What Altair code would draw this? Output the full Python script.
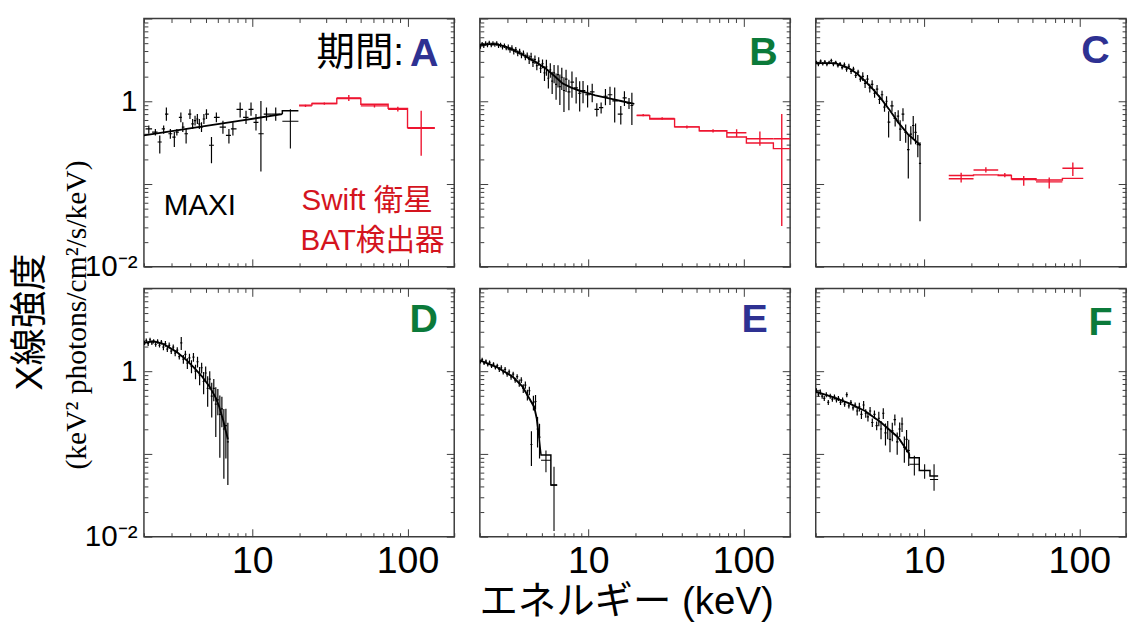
import math
import altair as alt
import pandas as pd

# ---------------- axis ticks / labels ----------------
X_TICKS = [2, 3, 4, 5, 6, 7, 8, 9, 10, 20, 30, 40, 50, 60, 70, 80, 90, 100, 200]
Y_TICKS = [0.01, 0.02, 0.03, 0.04, 0.05, 0.06, 0.07, 0.08, 0.09,
           0.1, 0.2, 0.3, 0.4, 0.5, 0.6, 0.7, 0.8, 0.9,
           1, 2, 3, 4, 5, 6, 7, 8, 9, 10]
X_LABEL_TICKS = [10, 100]
X_LABEL_TEXT = ["10", "100"]
Y_LABEL_TICKS = [0.01, 1]
Y_LABEL_TEXT = ["10⁻²", "1"]
X_DOMAIN = [2, 200]
Y_DOMAIN = [0.01, 10]

# ---------------- Panel A ----------------
A_maxi_E = [2.15, 2.37, 2.53, 2.68, 2.79, 2.96, 3.14, 3.26, 3.46, 3.56, 3.74, 3.96, 4.12, 4.27, 4.42, 4.55,
            4.70, 4.87, 5.06, 5.45, 5.86, 6.46, 7.06, 7.49, 8.34, 9.10, 9.80, 10.55, 11.35, 12.33, 14.14]
A_maxi_y = [0.464, 0.424, 0.322, 0.464, 0.70, 0.405, 0.369, 0.424, 0.639, 0.486, 0.405, 0.70, 0.532, 0.583,
            0.611, 0.532, 0.486, 0.611, 0.70, 0.294, 0.639, 0.486, 0.387, 0.464, 0.80, 0.639, 0.80, 0.557,
            0.405, 0.70, 0.70]
A_maxi_lo = [0.405, 0.387, 0.234, 0.405, 0.583, 0.353, 0.281, 0.387, 0.557, 0.424, 0.308, 0.611, 0.464, 0.508,
             0.532, 0.464, 0.424, 0.532, 0.611, 0.178, 0.557, 0.405, 0.308, 0.387, 0.639, 0.532, 0.669, 0.443,
             0.1415, 0.583, 0.583]
A_maxi_hi = [0.508, 0.464, 0.387, 0.508, 0.841, 0.464, 0.424, 0.464, 0.733, 0.557, 0.464, 0.80, 0.611, 0.669,
             0.70, 0.611, 0.557, 0.70, 0.80, 0.369, 0.733, 0.583, 0.464, 0.557, 0.964, 0.767, 0.964, 0.70,
             1.009, 0.841, 0.841]
A_model_E = [2.0, 8.0, 15.6]
A_model_y = [0.387, 0.576, 0.70]
A_bin_edges = [15.6, 19.8]
A_bin_y = [0.573]
A_bin_lo = [0.268]
A_bin_hi = [0.803]
A_bin_model = [0.767]
A_bat_edges = [20, 24.2, 35, 50, 75, 100, 150]
A_bat_y = [0.88, 0.94, 1.10, 0.88, 0.80, 0.47]
A_bat_lo = [0.85, 0.91, 1.01, 0.84, 0.75, 0.22]
A_bat_hi = [0.91, 0.97, 1.19, 0.92, 0.86, 0.767]
A_bat_model = [0.90, 0.94, 1.08, 0.92, 0.82, 0.48]

# ---------------- Panel B ----------------
B_maxi_E = [2.02, 2.07, 2.12, 2.18, 2.24, 2.30, 2.37, 2.43, 2.50, 2.57, 2.64, 2.72, 2.80, 2.88, 2.96,
            3.05, 3.13, 3.22, 3.31, 3.41, 3.51, 3.61, 3.71, 3.82, 3.93, 4.04,
            4.16, 4.28, 4.40, 4.53, 4.66, 4.79, 4.93, 5.07,
            5.22, 5.37, 5.53, 5.69, 5.85, 6.02,
            6.20, 6.38, 6.56, 6.75, 6.97, 7.19, 7.50, 7.85,
            8.35, 8.80, 9.25, 9.9, 10.6, 11.35, 12.1, 12.9, 13.8, 14.8, 16.2, 17.1, 18.3, 19.1]
B_maxi_y = [4.6, 4.9, 4.7, 5.0, 4.8, 5.1, 4.8, 5.0, 4.85, 5.0, 4.7, 4.8, 4.5, 4.7, 4.4,
            4.5, 4.2, 4.4, 4.0, 4.2, 3.8, 4.0, 3.6, 3.8, 3.4, 3.6,
            3.2, 3.45, 2.95, 3.2, 2.7, 3.05, 2.5, 2.85,
            2.2, 2.6, 1.9, 2.4, 1.75, 2.2,
            1.6, 2.1, 1.5, 1.95, 1.35, 1.85, 1.3, 1.7,
            1.45, 1.25, 1.35, 1.2, 1.3, 0.80, 0.84, 1.15, 1.2, 1.01, 0.70, 1.10, 0.95, 0.89]
B_maxi_err = [0.06] * 15 + [0.08] * 11 + [0.12] * 8 + \
             [0.2, 0.22, 0.25, 0.2, 0.3, 0.25] + \
             [0.35, 0.3, 0.4, 0.3, 0.45, 0.3, 0.4, 0.35] + \
             [0.35, 0.4, 0.3, 0.3, 0.25, 0.18, 0.15, 0.22, 0.25, 0.45, 0.25, 0.2, 0.15, 0.42]
B_model_E = [2.0, 2.3, 2.55, 2.9, 3.26, 3.7, 4.16, 4.7, 5.3, 6.0, 6.8, 7.7, 8.7, 9.8, 11.1, 12.5, 14.1, 16.5, 19.8]
B_model_y = [4.77, 4.9, 4.9, 4.6, 4.2, 3.75, 3.3, 2.9, 2.5, 2.05, 1.65, 1.47, 1.35, 1.26, 1.18, 1.12, 1.07, 1.0, 0.93]
B_bat_edges = [20.5, 24.9, 36.0, 51.9, 78.2, 104.5, 156, 200]
B_bat_y = [0.68, 0.62, 0.49, 0.44, 0.416, 0.353, 0.353]
B_bat_lo = [0.66, 0.60, 0.47, 0.42, 0.37, 0.29, 0.031]
B_bat_hi = [0.70, 0.64, 0.51, 0.46, 0.46, 0.43, 0.70]
B_bat_model = [0.67, 0.61, 0.49, 0.44, 0.37, 0.313, 0.268]

# ---------------- Panel C ----------------
C_maxi_E = [2.02, 2.08, 2.15, 2.22, 2.29, 2.36, 2.44, 2.52, 2.60, 2.69, 2.78, 2.87, 2.96,
            3.06, 3.16, 3.27, 3.38, 3.50, 3.62, 3.75, 3.88,
            4.02, 4.16, 4.31, 4.46, 4.62, 4.79, 4.97, 5.15, 5.35, 5.55,
            5.72, 5.9, 6.2, 6.5, 6.8, 7.0, 7.3, 7.6, 7.9, 8.2, 8.5, 8.8, 9.1, 9.4]
C_maxi_y = [2.95, 2.8, 3.05, 2.85, 3.0, 2.8, 2.95, 3.1, 2.8, 2.95, 2.7, 2.85, 2.55,
            2.75, 2.45, 2.65, 2.3, 2.45, 2.05, 2.25, 1.85,
            2.0, 1.65, 1.85, 1.45, 1.6, 1.25, 1.4, 1.05, 1.2, 0.85,
            1.0, 0.56, 0.88, 0.62, 0.66, 0.46, 0.70, 0.42, 0.26, 0.40, 0.51, 0.42, 0.30, 0.178]
C_maxi_err = [0.05] * 13 + [0.07] * 8 + [0.12] * 10 + \
             [0.15, 0.35, 0.15, 0.2, 0.18, 0.28, 0.18, 0.25, 0.55, 0.25, 0.3, 0.28, 0.3, 0.8]
C_model_E = [2.0, 2.68, 3.26, 3.7, 4.16, 4.7, 5.3, 6.0, 6.78, 7.85, 9.46]
C_model_y = [2.89, 2.89, 2.52, 2.15, 1.75, 1.38, 1.06, 0.78, 0.56, 0.40, 0.294]
C_bat_edges = [14.4, 20.8, 30.0, 36.5, 52.6, 77.8, 106]
C_bat_y = [0.116, 0.148, 0.128, 0.113, 0.106, 0.155]
C_bat_lo = [0.104, 0.138, 0.121, 0.095, 0.088, 0.125]
C_bat_hi = [0.137, 0.160, 0.136, 0.125, 0.120, 0.182]
C_bat_model = [0.127, 0.129, 0.127, 0.116, 0.112, 0.117]

# ---------------- Panel D ----------------
D_maxi_E = [2.02, 2.07, 2.13, 2.19, 2.25, 2.31, 2.38, 2.45, 2.52, 2.59,
            2.67, 2.75, 2.83, 2.91, 3.00, 3.09, 3.18, 3.28, 3.38, 3.48,
            3.59, 3.70, 3.81, 3.93, 4.05, 4.17, 4.30, 4.43, 4.57, 4.71,
            4.85, 5.00, 5.15, 5.31, 5.47, 5.64, 5.81, 5.99, 6.17, 6.36,
            6.55, 6.75, 6.95]
D_maxi_y = [2.2, 2.35, 2.15, 2.4, 2.2, 2.3, 2.1, 2.3, 2.05, 2.25,
            1.95, 2.15, 1.85, 2.05, 1.75, 1.95, 1.65, 1.8, 1.5, 2.2,
            1.4, 1.6, 1.25, 1.45, 1.15, 1.48, 1.0, 1.3, 0.9, 1.1,
            0.75, 0.95, 0.62, 0.8, 0.5, 0.62, 0.4, 0.45, 0.3, 0.35,
            0.2, 0.22, 0.14]
D_maxi_err = [0.06] * 10 + [0.08] * 9 + [0.18] + \
             [0.12, 0.1, 0.15, 0.12, 0.18, 0.12, 0.2, 0.15, 0.25, 0.15] + \
             [0.3, 0.2, 0.4, 0.25, 0.45, 0.3, 0.6, 0.35, 0.7, 0.4] + \
             [0.75, 0.6, 0.7]
D_model_E = [2.0, 2.3, 2.68, 3.26, 3.7, 4.16, 4.7, 5.3, 5.8, 6.1, 6.5, 6.95]
D_model_y = [2.2, 2.3, 2.13, 1.70, 1.40, 1.13, 0.88, 0.65, 0.48, 0.376, 0.25, 0.15]

# ---------------- Panel E ----------------
E_maxi_E = [2.02, 2.07, 2.13, 2.19, 2.25, 2.31, 2.38, 2.45, 2.52, 2.59,
            2.67, 2.75, 2.83, 2.91, 3.00, 3.09, 3.18, 3.28, 3.38, 3.48,
            3.59, 3.70, 3.81, 3.93, 4.05, 4.17, 4.30, 4.43, 4.57, 4.71, 4.85]
E_maxi_y = [1.3, 1.38, 1.25, 1.32, 1.2, 1.28, 1.15, 1.22, 1.1, 1.17,
            1.05, 1.1, 0.98, 1.05, 0.92, 0.98, 0.85, 0.92, 0.78, 0.86,
            0.72, 0.78, 0.62, 0.68, 0.52, 0.58, 0.13, 0.42, 0.43, 0.2, 0.16]
E_maxi_err = [0.05] * 10 + [0.07] * 10 + \
             [0.1, 0.08, 0.12, 0.1, 0.15, 0.12, 0.45, 0.2, 0.2, 0.4, 0.45]
E_model_E = [2.0, 2.55, 3.26, 3.77, 4.16, 4.48, 4.65, 4.8]
E_model_y = [1.35, 1.13, 0.855, 0.65, 0.47, 0.37, 0.27, 0.165]
E_bin_edges = [4.96, 5.74, 6.3]
E_bin_y = [0.084, 0.042]
E_bin_lo = [0.06, 0.0117]
E_bin_hi = [0.11, 0.07]
E_bin_model = [0.097, 0.042]

# ---------------- Panel F ----------------
F_maxi_E = [2.02, 2.08, 2.14, 2.20, 2.27, 2.34, 2.41, 2.48, 2.56, 2.64,
            2.72, 2.80, 2.89, 2.98, 3.07, 3.17, 3.27, 3.37, 3.48, 3.59,
            3.70, 3.82, 3.94, 4.07, 4.20, 4.34, 4.48, 4.63, 4.78, 4.94,
            5.10, 5.27, 5.45, 5.63, 5.82, 6.02, 6.23, 6.47, 6.70, 6.95,
            7.2, 7.45, 7.7, 7.95]
F_maxi_y = [0.58, 0.53, 0.56, 0.5, 0.47, 0.52, 0.42, 0.5, 0.46, 0.49,
            0.45, 0.47, 0.42, 0.45, 0.4, 0.52, 0.38, 0.42, 0.36, 0.39,
            0.33, 0.37, 0.3, 0.39, 0.31, 0.28, 0.33, 0.24, 0.3, 0.22,
            0.27, 0.2, 0.31, 0.18, 0.2, 0.15, 0.19, 0.26, 0.14, 0.2,
            0.23, 0.12, 0.15, 0.11]
F_maxi_err = [0.07] * 20 + [0.12] * 10 + \
             [0.2, 0.25, 0.15, 0.3, 0.25, 0.3, 0.25, 0.15, 0.3, 0.2] + \
             [0.2, 0.35, 0.3, 0.35]
F_model_E = [2.0, 2.55, 3.26, 4.16, 5.3, 6.8, 8.03]
F_model_y = [0.567, 0.49, 0.41, 0.33, 0.238, 0.158, 0.10]
F_bin_edges = [8.03, 9.3, 10.9, 12.3]
F_bin_y = [0.075, 0.063, 0.049]
F_bin_lo = [0.055, 0.05, 0.036]
F_bin_hi = [0.095, 0.075, 0.075]
F_bin_model = [0.09, 0.063, 0.054]

# ---------------- text ----------------
PANEL_LETTERS = ["A", "B", "C", "D", "E", "F"]
PERIOD_TEXT = "期間:"
MAXI_TEXT = "MAXI"
SWIFT_TEXT = ["Swift 衛星", "BAT検出器"]
Y_TITLE = "X線強度"
Y_UNIT = "(keV² photons/cm²/s/keV)"
X_TITLE = "エネルギー (keV)"

# ---------------- style ----------------
W, H = 315, 252
FRAME = "#3c3c3c"
RED = "#ee1530"
TEXT_RED = "#d4141e"
BLUE = "#2e3192"
GREEN = "#0b7a3a"
SANS = "Liberation Sans, Noto Sans CJK JP, sans-serif"
SERIF = "Liberation Serif, DejaVu Serif, serif"

xs = alt.Scale(type="log", domain=X_DOMAIN, nice=False)
ys = alt.Scale(type="log", domain=Y_DOMAIN, nice=False)
MAJOR = "abs(log(datum.value) / LN10 - round(log(datum.value) / LN10)) < 0.001"
TSIZE = {"condition": {"test": MAJOR, "value": 8}, "value": 4}


def tick_axis(values, orient, offset):
    return alt.Axis(orient=orient, offset=offset, values=values, labels=False, domain=False,
                    grid=False, ticks=True, tickSize=TSIZE, tickColor=FRAME, tickWidth=1,
                    title=None)


AX_X_BOTTOM = tick_axis(X_TICKS, "top", -H)     # ticks drawn on bottom edge, pointing in
AX_X_TOP = tick_axis(X_TICKS, "bottom", -H)     # ticks on top edge, pointing in
AX_Y_LEFT = tick_axis(Y_TICKS, "right", -W)     # ticks on left edge, pointing in
AX_Y_RIGHT = tick_axis(Y_TICKS, "left", -W)     # ticks on right edge, pointing in

x_label_expr = " : ".join(
    [f"datum.value == {v} ? '{t}'" for v, t in zip(X_LABEL_TICKS[:-1], X_LABEL_TEXT[:-1])]
    + [f"'{X_LABEL_TEXT[-1]}'"])
y_label_expr = " : ".join(
    [f"datum.value == {v} ? '{t}'" for v, t in zip(Y_LABEL_TICKS[:-1], Y_LABEL_TEXT[:-1])]
    + [f"'{Y_LABEL_TEXT[-1]}'"])

AX_X_LAB = alt.Axis(orient="bottom", values=X_LABEL_TICKS, labelExpr=x_label_expr, ticks=False,
                    domain=False, grid=False, labelFont=SANS, labelFontSize=38, labelColor="#000",
                    labelPadding=6, labelFlush=False, labelOverlap=False, labelBound=False, title=None)
AX_Y_LAB = alt.Axis(orient="left", values=Y_LABEL_TICKS, labelExpr=y_label_expr, ticks=False,
                    domain=False, grid=False, labelFont=SANS, labelFontSize=30, labelColor="#000",
                    labelPadding=7, labelFlush=False, labelOverlap=False, labelBound=False, title=None)


def dense_df(E, y, lo, hi):
    xlo, xhi = [], []
    n = len(E)
    for i, e in enumerate(E):
        left = math.sqrt(E[i - 1] * e) if i > 0 else e * e / math.sqrt(e * E[i + 1])
        right = math.sqrt(e * E[i + 1]) if i < n - 1 else e * e / math.sqrt(E[i - 1] * e)
        xlo.append(left)
        xhi.append(right)
    return pd.DataFrame({"E": E, "y": y, "lo": lo, "hi": hi, "xlo": xlo, "xhi": xhi})


def from_err(y, err):
    return [v * (1 - f) for v, f in zip(y, err)], [v * (1 + f) for v, f in zip(y, err)]


def bins_df(edges, y, lo, hi):
    return pd.DataFrame({
        "E": [math.sqrt(edges[i] * edges[i + 1]) for i in range(len(y))],
        "xlo": edges[:-1], "xhi": edges[1:], "y": y, "lo": lo, "hi": hi})


def step_df(edges, vals, start=None):
    xs_, ys_ = [], []
    if start is not None:
        xs_.append(start[0])
        ys_.append(start[1])
    for i, v in enumerate(vals):
        xs_ += [edges[i], edges[i + 1]]
        ys_ += [v, v]
    return pd.DataFrame({"E": xs_, "y": ys_, "o": list(range(len(xs_)))})


def crosses(df, color, width):
    v = alt.Chart(df).mark_rule(color=color, strokeWidth=width, clip=True).encode(
        x=alt.X("E:Q", scale=xs, axis=None), y=alt.Y("lo:Q", scale=ys, axis=None), y2="hi:Q")
    h = alt.Chart(df).mark_rule(color=color, strokeWidth=width, clip=True).encode(
        x=alt.X("xlo:Q", scale=xs, axis=None), x2="xhi:Q", y=alt.Y("y:Q", scale=ys, axis=None))
    return [v, h]


def step_line(df, color, width):
    return alt.Chart(df).mark_line(color=color, strokeWidth=width, clip=True).encode(
        x=alt.X("E:Q", scale=xs, axis=None), y=alt.Y("y:Q", scale=ys, axis=None), order="o:Q")


def text(t, x, y, size, color="#000", weight="normal", align="left", font=SANS, angle=0):
    kw = dict(fontSize=size, color=color, fontWeight=weight, align=align, baseline="middle",
              font=font)
    if angle:
        kw["angle"] = angle
    return alt.Chart(pd.DataFrame({"t": [t]})).mark_text(**kw).encode(
        text="t:N", x=alt.value(x), y=alt.value(y))


def panel(row, col, E, y, lo, hi, mE, my, bins=None, bat=None, texts=()):
    d = dense_df(E, y, lo, hi)
    layers = []
    model = pd.DataFrame({"E": mE, "y": my})
    layers.append(alt.Chart(d).mark_rule(color="black", strokeWidth=1.2, clip=True).encode(
        x=alt.X("E:Q", scale=xs, axis=AX_X_TOP), y=alt.Y("lo:Q", scale=ys, axis=AX_Y_RIGHT),
        y2="hi:Q"))
    layers.append(alt.Chart(d).mark_rule(color="black", strokeWidth=1.2, clip=True).encode(
        x=alt.X("xlo:Q", scale=xs, axis=AX_X_LAB if row == 1 else None), x2="xhi:Q",
        y=alt.Y("y:Q", scale=ys, axis=AX_Y_LAB if col == 0 else None)))
    layers.append(alt.Chart(model).mark_line(color="black", strokeWidth=1.9, clip=True).encode(
        x=alt.X("E:Q", scale=xs, axis=AX_X_BOTTOM), y=alt.Y("y:Q", scale=ys, axis=AX_Y_LEFT)))
    if bins is not None:
        edges, by, blo, bhi, bmod = bins
        layers += crosses(bins_df(edges, by, blo, bhi), "black", 1.1)
        layers.append(step_line(step_df(edges, bmod, start=(mE[-1], my[-1])), "black", 1.5))
    if bat is not None:
        edges, by, blo, bhi, bmod = bat
        layers += crosses(bins_df(edges, by, blo, bhi), RED, 1.4)
        layers.append(step_line(step_df(edges, bmod), RED, 1.4))
    for t in texts:
        layers.append(t)
    return alt.layer(*layers).resolve_axis(x="independent", y="independent").properties(
        width=W, height=H)


A_lo, A_hi = A_maxi_lo, A_maxi_hi
B_lo, B_hi = from_err(B_maxi_y, B_maxi_err)
C_lo, C_hi = from_err(C_maxi_y, C_maxi_err)
D_lo, D_hi = from_err(D_maxi_y, D_maxi_err)
E_lo, E_hi = from_err(E_maxi_y, E_maxi_err)
F_lo, F_hi = from_err(F_maxi_y, F_maxi_err)

pA = panel(0, 0, A_maxi_E, A_maxi_y, A_lo, A_hi, A_model_E, A_model_y,
           bins=(A_bin_edges, A_bin_y, A_bin_lo, A_bin_hi, A_bin_model),
           bat=(A_bat_edges, A_bat_y, A_bat_lo, A_bat_hi, A_bat_model),
           texts=[text(PERIOD_TEXT, 264, 35.5, 39, align="right"),
                  text(PANEL_LETTERS[0], 270, 36.5, 40, color=BLUE, weight="bold"),
                  text(MAXI_TEXT, 20, 190.5, 30),
                  text(SWIFT_TEXT[0], 160, 185, 30, color=TEXT_RED),
                  text(SWIFT_TEXT[1], 159, 226, 30, color=TEXT_RED)])
pB = panel(0, 1, B_maxi_E, B_maxi_y, B_lo, B_hi, B_model_E, B_model_y,
           bat=(B_bat_edges, B_bat_y, B_bat_lo, B_bat_hi, B_bat_model),
           texts=[text(PANEL_LETTERS[1], 288, 35, 40, color=GREEN, weight="bold", align="center")])
pC = panel(0, 2, C_maxi_E, C_maxi_y, C_lo, C_hi, C_model_E, C_model_y,
           bat=(C_bat_edges, C_bat_y, C_bat_lo, C_bat_hi, C_bat_model),
           texts=[text(PANEL_LETTERS[2], 284, 33.5, 40, color=BLUE, weight="bold", align="center")])
pD = panel(1, 0, D_maxi_E, D_maxi_y, D_lo, D_hi, D_model_E, D_model_y,
           texts=[text(PANEL_LETTERS[3], 284, 32.5, 40, color=GREEN, weight="bold", align="center"),
                  text(Y_TITLE, -114, 34, 38, align="center", angle=270),
                  text(Y_UNIT, -68, 27, 30, align="center", font=SERIF, angle=270)])
pE = panel(1, 1, E_maxi_E, E_maxi_y, E_lo, E_hi, E_model_E, E_model_y,
           bins=(E_bin_edges, E_bin_y, E_bin_lo, E_bin_hi, E_bin_model),
           texts=[text(PANEL_LETTERS[4], 279, 32, 40, color=BLUE, weight="bold", align="center"),
                  text(X_TITLE, 149, 318, 39, align="center")])
pF = panel(1, 2, F_maxi_E, F_maxi_y, F_lo, F_hi, F_model_E, F_model_y,
           bins=(F_bin_edges, F_bin_y, F_bin_lo, F_bin_hi, F_bin_model),
           texts=[text(PANEL_LETTERS[5], 289, 35, 40, color=GREEN, weight="bold", align="center")])

chart = alt.concat(pA, pB, pC, pD, pE, pF, columns=3, spacing={"row": 22, "column": 26},
                   bounds="flush").properties(
    padding={"left": 4, "top": 4, "right": 0, "bottom": 0}
).configure_view(stroke=FRAME, strokeWidth=1.5)

chart.save("out.html", embed_options={"renderer": "svg", "actions": False})
